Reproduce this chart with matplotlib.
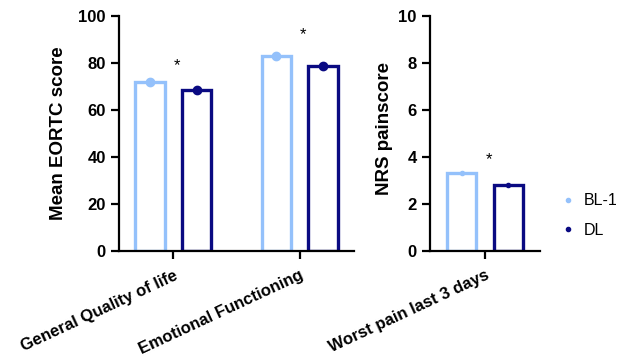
import matplotlib
matplotlib.use("Agg")
import matplotlib.pyplot as plt
import matplotlib.transforms as mtransforms
import numpy as np

plt.rcParams["font.family"] = ["Liberation Sans", "DejaVu Sans"]
plt.rcParams["font.weight"] = "bold"
plt.rcParams["axes.labelweight"] = "bold"

# data
eortc_labels = ["General Quality of life", "Emotional Functioning"]
eortc_bl1 = [72.0, 83.0]
eortc_dl = [68.3, 78.7]
eortc_stars = [79, 92]

nrs_labels = ["Worst pain last 3 days"]
nrs_bl1 = [3.32]
nrs_dl = [2.8]
nrs_stars = [3.9]

series = ["BL-1", "DL"]
light, dark = "#94c1fb", "#0a0a82"

fig = plt.figure(figsize=(6.31, 3.61), dpi=100)
ax1 = fig.add_axes([0.1886, 0.3047, 0.3724, 0.651])
ax2 = fig.add_axes([0.6815, 0.3047, 0.1743, 0.651])

off, bw = 0.185, 0.232


def panel(ax, labels, bl, dl, stars, ymax, ylabel, ms):
    x = np.arange(len(labels))
    ax.bar(x - off, bl, bw, facecolor="white", edgecolor=light, lw=2.4, zorder=2)
    ax.bar(x + off, dl, bw, facecolor="white", edgecolor=dark, lw=2.4, zorder=2)
    ax.plot(x - off, bl, "o", color=light, ms=ms, zorder=3, clip_on=False)
    ax.plot(x + off, dl, "o", color=dark, ms=ms, zorder=3, clip_on=False)
    for xi, s in zip(x, stars):
        ax.text(xi + 0.03, s, "*", ha="center", va="center", fontsize=12, fontweight="normal")
    ax.set_ylim(0, ymax)
    ax.set_yticks(np.linspace(0, ymax, 6))
    ax.set_xticks(x)
    shift = mtransforms.ScaledTranslation(6 / 100, -3 / 100, fig.dpi_scale_trans)
    for lab in ax.set_xticklabels(labels, rotation=25, ha="right", va="top",
                                  rotation_mode="anchor", fontsize=11.5):
        lab.set_transform(lab.get_transform() + shift)
    ax.set_ylabel(ylabel, fontsize=13.5, labelpad=8)
    for s in ["top", "right"]:
        ax.spines[s].set_visible(False)
    for s in ["left", "bottom"]:
        ax.spines[s].set_linewidth(1.6)
    ax.tick_params(width=1.6, length=6, labelsize=12)
    ax.tick_params(axis="x", pad=6)


panel(ax1, eortc_labels, eortc_bl1, eortc_dl, eortc_stars, 100, "Mean EORTC score", 6)
ax1.set_xlim(-0.43, 1.43)
panel(ax2, nrs_labels, nrs_bl1, nrs_dl, nrs_stars, 10, "NRS painscore", 3)
ax2.set_xlim(-0.44, 0.44)
ax2.yaxis.set_label_coords(-0.34, 0.52)

handles = [plt.Line2D([], [], ls="", marker="o", ms=3, color=c) for c in (light, dark)]
fig.legend(handles, series, loc="center left", bbox_to_anchor=(0.887, 0.403),
           frameon=False, borderpad=0, borderaxespad=0, handlelength=1,
           handletextpad=0.5, labelspacing=0.9,
           prop={"weight": "normal", "size": 11.5})

fig.savefig("out.png", dpi=100)
